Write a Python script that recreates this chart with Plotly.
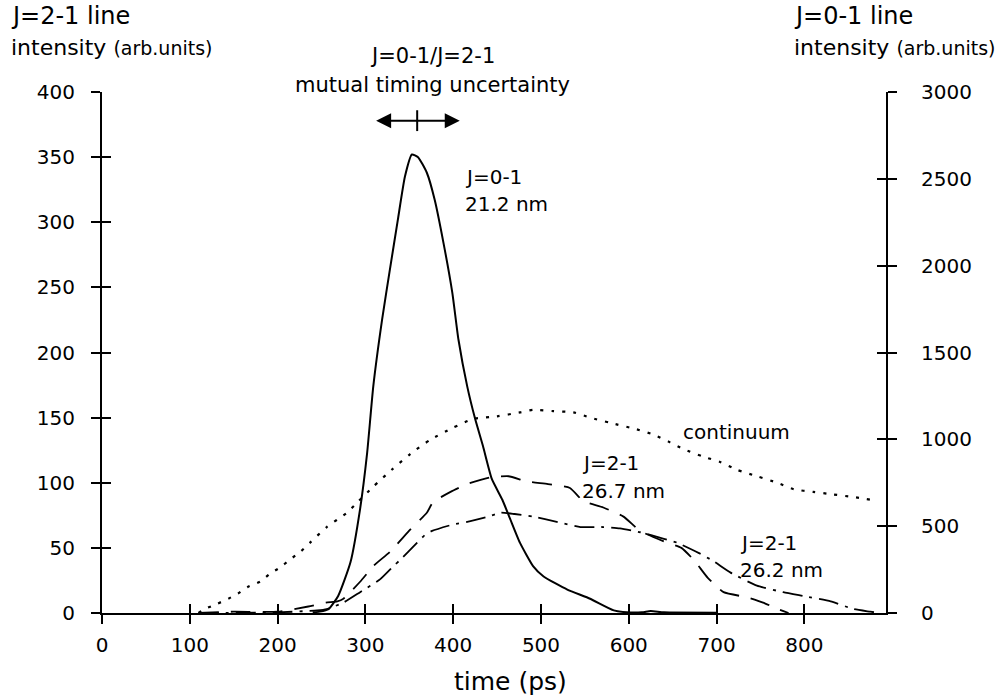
import plotly.graph_objects as go

FONT = "DejaVu Sans"

# ---------------- data ----------------
# J=0-1 line (21.2 nm) -- right axis (arb. units)
t_j01 = [240, 248, 258, 269, 283, 294, 302, 309, 319, 328, 337, 345, 353, 360, 370, 379, 389, 399, 406, 416,
         425, 434, 444, 456, 465, 476, 491, 503, 530, 556, 583, 598, 615, 625, 640, 700]
i_j01 = [4, 8, 22, 98, 292, 600, 922, 1305, 1688, 1980, 2265, 2512, 2640, 2625, 2535, 2378, 2130, 1845, 1575, 1305,
         1118, 960, 772, 652, 540, 405, 270, 210, 135, 82, 15, 4, 4, 11, 4, 2]

# continuum -- left axis
t_cont = [110, 117, 131, 144, 155, 166, 180, 191, 203, 214, 226, 237, 256, 279, 291, 309, 330, 351, 374, 399,
          423, 450, 476, 491, 514, 537, 556, 579, 609, 628, 647, 662, 685, 704, 723, 746, 769, 788, 810, 833,
          856, 875]
i_cont = [0, 3, 7, 11, 15, 20, 24, 30, 35, 41, 47, 54, 66, 77, 85, 97, 110, 122, 133, 142,
          149, 151, 154, 156, 155, 154, 150, 146, 141, 137, 131, 126, 120, 116, 110, 105, 100, 95, 93, 91,
          89, 87]

# J=2-1 line 26.7 nm -- left axis
t_267 = [110, 150, 200, 235, 255, 268, 275, 294, 309, 328, 351, 370, 377, 397, 416, 442, 463, 484, 508, 533,
         548, 571, 594, 613, 640, 660, 675, 690, 708, 735, 753, 770, 782]
i_267 = [0, 1, 1, 5, 8, 9, 11, 24, 36, 47, 64, 77, 85, 93, 99, 104, 105, 101, 99, 96,
         86, 81, 74, 63, 55, 50, 40, 27, 16, 12, 8, 3, 0]

# J=2-1 line 26.2 nm -- left axis
t_262 = [110, 200, 245, 256, 275, 294, 317, 332, 340, 359, 368, 376, 400, 416, 440, 454, 470, 491, 518, 545,
         571, 590, 613, 640, 655, 680, 696, 716, 746, 776, 799, 830, 856, 875, 885]
i_262 = [0, 0.5, 2, 3, 8, 16, 26, 36, 41, 54, 60, 63, 68, 70, 74, 77, 76, 74, 70, 66,
         66, 65, 62, 57, 54, 46, 40, 31, 21, 16, 13, 9, 3, 1, 0]

x_ticks = [0, 100, 200, 300, 400, 500, 600, 700, 800]
x_range = [0, 893]
left_range = [0, 400]
right_range = [0, 3000]

# mutual timing uncertainty marker (ps, left-axis level)
timing_center = 359
timing_half = 48.5
timing_level = 378

# ---------------- layout geometry ----------------
W, H = 1002, 698
L, R, T, B = 102, 886, 92, 613


def px(x):
    return (x - L) / (R - L)


def py(y):
    return (B - y) / (B - T)


fig = go.Figure()
fig.add_trace(go.Scatter(x=t_cont, y=i_cont, mode="lines", showlegend=False, hoverinfo="skip",
                         line=dict(color="black", width=2.2, dash="3px,8px", shape="spline", smoothing=0.6)))
fig.add_trace(go.Scatter(x=t_267, y=i_267, mode="lines", showlegend=False, hoverinfo="skip",
                         line=dict(color="black", width=1.8, dash="20px,12px", shape="spline", smoothing=0.5)))
fig.add_trace(go.Scatter(x=t_262, y=i_262, mode="lines", showlegend=False, hoverinfo="skip",
                         line=dict(color="black", width=1.8, dash="20px,7px,3px,7px", shape="spline",
                                   smoothing=0.5)))
fig.add_trace(go.Scatter(x=t_j01, y=i_j01, yaxis="y2", mode="lines", showlegend=False, hoverinfo="skip",
                         line=dict(color="black", width=2, shape="spline", smoothing=0.5)))
# empty traces so the overlay tick axes (crossing ticks) are drawn
fig.add_trace(go.Scatter(x=[None], y=[None], xaxis="x2", yaxis="y3", showlegend=False, hoverinfo="skip"))
fig.add_trace(go.Scatter(x=[None], y=[None], xaxis="x", yaxis="y4", showlegend=False, hoverinfo="skip"))

tickfont = dict(family=FONT, size=20, color="black")
common = dict(showgrid=False, zeroline=False, tickcolor="black", tickwidth=2, ticklen=9)

fig.update_layout(
    width=W, height=H,
    margin=dict(l=L, r=W - R, t=T, b=H - B, pad=0),
    paper_bgcolor="white", plot_bgcolor="white",
    font=dict(family=FONT, color="black"),
    xaxis=dict(range=x_range, tickvals=x_ticks, ticks="outside", showline=True, linecolor="black",
               linewidth=2, tickfont=tickfont, anchor="y", ticklabelstandoff=4, **common),
    xaxis2=dict(range=x_range, tickvals=x_ticks, ticks="inside", overlaying="x", anchor="y",
                side="bottom", showticklabels=False, showline=False, **common),
    yaxis=dict(range=left_range, dtick=50, ticks="outside", showline=True, linecolor="black",
               linewidth=2, tickfont=tickfont, anchor="x", ticklabelstandoff=12, **common),
    yaxis2=dict(range=right_range, dtick=500, ticks="outside", overlaying="y", side="right",
                showline=True, linecolor="black", linewidth=2, tickfont=tickfont, anchor="x",
                ticklabelstandoff=20, **common),
    yaxis3=dict(range=left_range, dtick=50, ticks="inside", overlaying="y", side="left", anchor="x",
                showticklabels=False, showline=False, **common),
    yaxis4=dict(range=right_range, dtick=500, ticks="inside", overlaying="y", side="right", anchor="x",
                showticklabels=False, showline=False, **common),
)

ann = []


def ptext(text, x, y, size, xanchor="left"):
    ann.append(dict(text=text, x=px(x), y=py(y), xref="paper", yref="paper", showarrow=False,
                    xanchor=xanchor, yanchor="middle", font=dict(family=FONT, size=size, color="black")))


def dtext(text, x, y, size=20):
    ann.append(dict(text=text, x=x, y=y, xref="x", yref="y", showarrow=False,
                    xanchor="left", yanchor="middle", font=dict(family=FONT, size=size, color="black")))


ptext("J=2-1 line", 9, 16, 24)
ptext("intensity <span style='font-size:19px'>(arb.units)</span>", 9, 47, 22)
ptext("J=0-1 line", 792, 16, 24)
ptext("intensity <span style='font-size:19px'>(arb.units)</span>", 792, 47, 22)
ptext("J=0-1/J=2-1", 432, 56, 21, "center")
ptext("mutual timing uncertainty", 432, 85, 21, "center")
ptext("time (ps)", 510, 681, 25, "center")

dtext("J=0-1", 411, 335)
dtext("21.2 nm", 411, 314)
dtext("continuum", 659, 139)
dtext("J=2-1", 545, 115)
dtext("26.7 nm", 545, 94)
dtext("J=2-1", 724, 54)
dtext("26.2 nm", 724, 33)

# double-headed arrow for the timing uncertainty
ann.append(dict(text="", x=timing_center + timing_half, y=timing_level,
                ax=timing_center - timing_half, ay=timing_level,
                xref="x", yref="y", axref="x", ayref="y", showarrow=True,
                arrowhead=2, arrowside="end+start", arrowsize=1.5, arrowwidth=2,
                arrowcolor="black", standoff=0, startstandoff=0))

fig.update_layout(annotations=ann)
fig.add_shape(type="line", xref="x", yref="y",
              x0=timing_center, x1=timing_center, y0=timing_level - 8, y1=timing_level + 8,
              line=dict(color="black", width=2))

fig.write_html("out.html")
